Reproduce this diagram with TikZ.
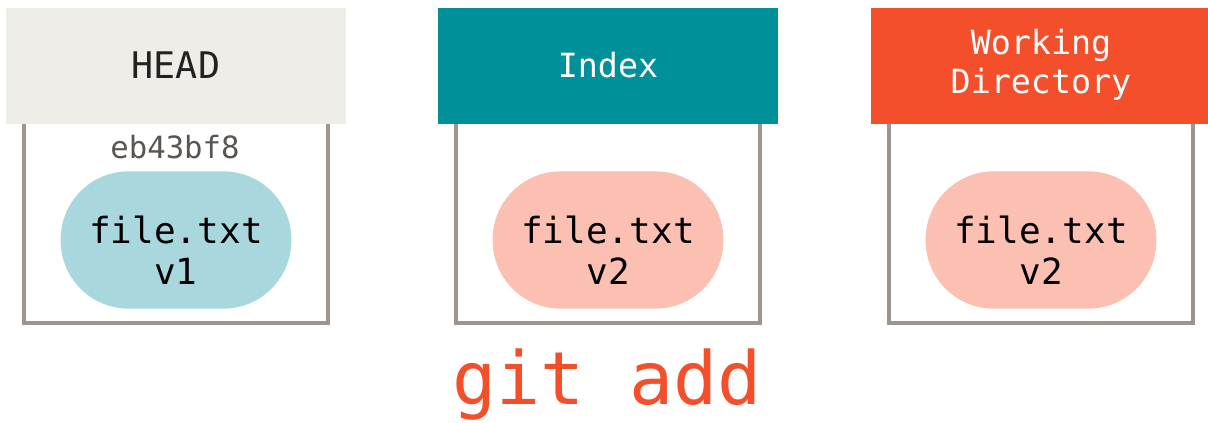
\documentclass[tikz,border=0pt]{standalone}
\usepackage{fontspec}
\setmonofont{DejaVu Sans Mono}
\usepackage{tikz}
\usetikzlibrary{positioning}
\usepackage{xcolor}

\definecolor{headgray}{HTML}{EEEDE7}
\definecolor{indexteal}{HTML}{00909A}
\definecolor{wdred}{HTML}{F34F2B}
\definecolor{boxgray}{HTML}{9C968F}
\definecolor{fileblue}{HTML}{A8D8DD}
\definecolor{filepink}{HTML}{FBC0B2}
\definecolor{hashgray}{HTML}{5A5551}
\definecolor{headtext}{HTML}{222222}

\tikzset{
  treehead/.style={font=\ttfamily\fontsize{25}{29}\selectfont, align=center, inner sep=0pt},
  treeblob/.style={rounded corners=51pt, minimum width=173pt, minimum height=103pt, inner sep=0pt},
  blobtext/.style={font=\ttfamily\fontsize{27}{31}\selectfont, align=center, inner sep=0pt, text=black}
}

\begin{document}
\begin{tikzpicture}[x=0.75pt,y=-0.75pt]
\useasboundingbox (0,0) rectangle (1208,423);

\foreach \x/\hd/\tc/\lbl/\fl/\ver [count=\i] in
  {176/headgray/headtext/{\fontsize{27.5}{31}\selectfont HEAD}/fileblue/v1, 608/indexteal/white/Index/filepink/v2,
   1041/wdred/white/{Working\\Directory}/filepink/v2} {
  % header and tree box
  \fill[\hd] (\x-170,8) rectangle (\x+170,124);
  \draw[boxgray, line width=2.6pt] (\x-152,124) -- (\x-152,323) -- (\x+152,323) -- (\x+152,124);
  \node[treehead, text=\tc] (hdr\i) at (\x,65) {\lbl};
  \node[treeblob, fill=\fl] (blob\i) at (\x,240) {};
  \node[blobtext] (file\i) at (\x,250) {file.txt\\\ver};
}

\node[font=\ttfamily\fontsize{23}{27}\selectfont, text=hashgray, inner sep=0pt] (hash) at (175,147) {eb43bf8};

\node[font=\ttfamily\fontsize{55}{60}\selectfont, text=wdred, anchor=base, inner sep=0pt] (cmd) at (607,405) {git add};
\end{tikzpicture}
\end{document}
